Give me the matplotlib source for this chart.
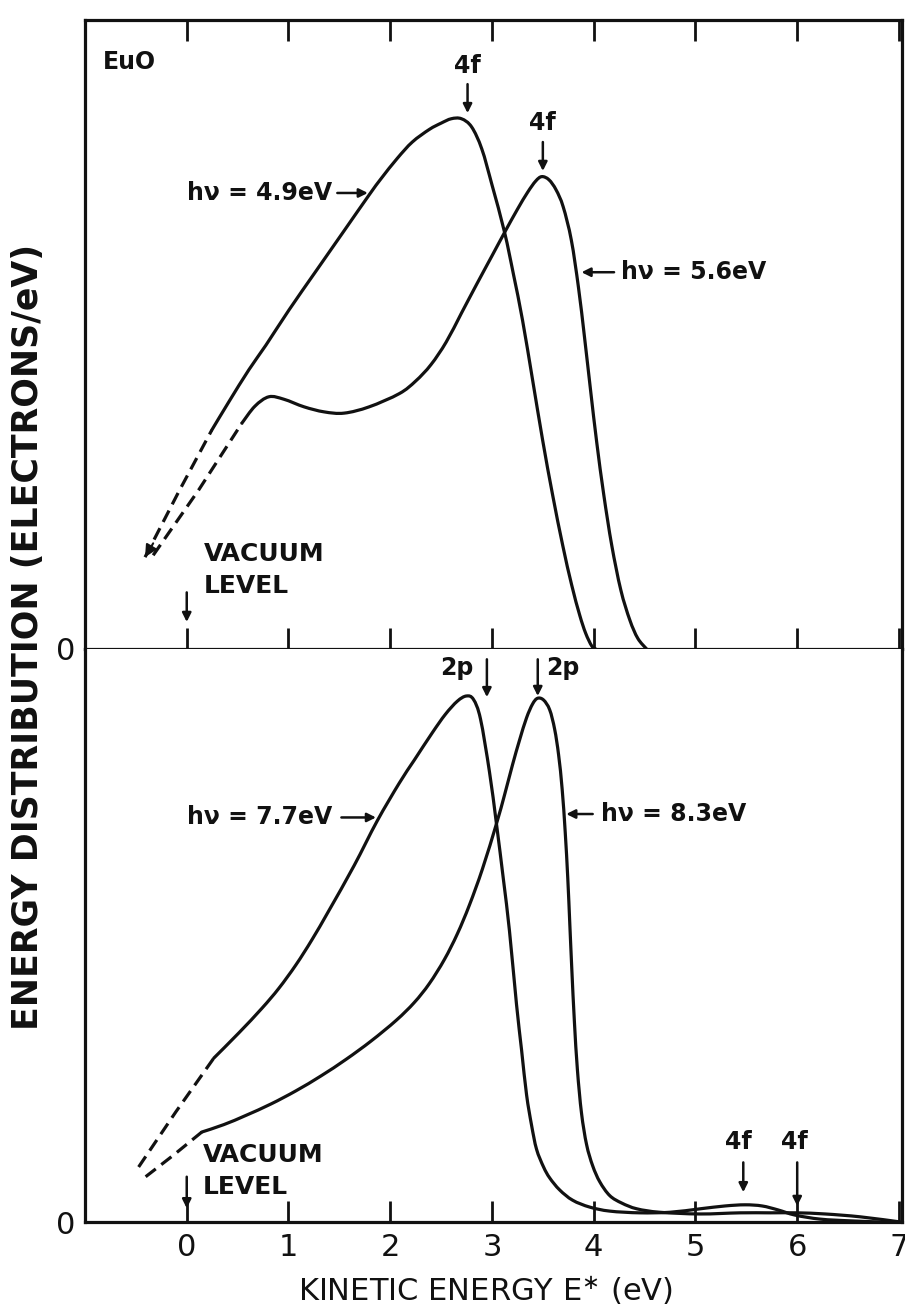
import matplotlib
matplotlib.use("Agg")
import matplotlib.pyplot as plt
from matplotlib.path import Path
from matplotlib.patches import PathPatch

plt.rcParams['font.family'] = ['DejaVu Sans']

# ---- upper panel: hv = 4.9 eV and 5.6 eV (kinetic energy in eV, distribution in arb. units)
top_49_dash_x = [-0.41, -0.079, 0.246]
top_49_dash_y = [14.6, 25.0, 34.8]
top_49_x = [0.246, 0.414, 0.611, 0.778, 1.005, 1.271, 1.547, 1.793, 1.911, 2.069,
            2.217, 2.384, 2.50, 2.60, 2.70, 2.80, 2.90, 3.00, 3.123, 3.212, 3.300,
            3.399, 3.498, 3.596, 3.695, 3.783, 3.862, 3.921, 3.980, 4.020]
top_49_y = [34.8, 39.3, 44.4, 48.3, 53.9, 60.1, 66.5, 72.2, 74.8, 78.0,
            80.6, 82.6, 83.6, 84.3, 84.3, 83.0, 79.5, 73.8, 66.3, 59.5, 52.3,
            42.8, 33.2, 24.5, 16.5, 10.2, 5.4, 2.5, 0.5, 0.0]

top_56_dash_x = [-0.33, 0.118, 0.542]
top_56_dash_y = [14.9, 25.3, 35.9]
top_56_x = [0.542, 0.670, 0.808, 0.956, 1.153, 1.350, 1.547, 1.793, 2.089, 2.25,
            2.40, 2.55, 2.70, 2.85, 3.00, 3.123, 3.25, 3.35, 3.43, 3.49,
            3.56, 3.63, 3.70, 3.78, 3.85, 3.91, 3.97, 4.030, 4.099, 4.177,
            4.266, 4.355, 4.433, 4.520]
top_56_y = [35.9, 38.6, 40.1, 39.7, 38.5, 37.7, 37.5, 38.5, 40.6, 42.6,
            45.2, 48.8, 53.4, 58.0, 62.5, 66.2, 69.9, 72.6, 74.4, 75.1,
            74.6, 73.0, 70.3, 65.0, 57.5, 49.5, 41.0, 32.8, 24.5, 16.5,
            9.4, 4.6, 1.7, 0.0]

# ---- lower panel: hv = 7.7 eV and 8.3 eV
bot_77_dash_x = [-0.473, -0.108, 0.266]
bot_77_dash_y = [9.6, 19.2, 28.6]
bot_77_x = [0.266, 0.512, 0.739, 0.906, 1.074, 1.232, 1.399, 1.645, 1.872, 2.089,
            2.236, 2.414, 2.542, 2.660, 2.749, 2.818, 2.887, 2.975, 3.044, 3.113,
            3.172, 3.241, 3.291, 3.340, 3.389, 3.438, 3.507, 3.567, 3.665, 3.793,
            3.961, 4.158, 4.453, 4.749, 5.044, 5.291, 5.488, 5.655, 5.813, 5.980,
            6.227, 6.522, 6.818]
bot_77_y = [28.6, 33.0, 37.3, 40.8, 44.9, 49.3, 54.4, 62.2, 70.0, 76.6,
            80.6, 85.4, 88.6, 90.9, 91.8, 91.2, 87.8, 78.6, 69.5, 59.7,
            50.8, 38.0, 30.0, 22.2, 16.9, 12.7, 9.6, 7.7, 5.6, 3.8,
            2.6, 1.9, 1.6, 1.7, 2.3, 2.8, 3.0, 2.8, 2.1, 1.2,
            0.5, 0.2, 0.0]

bot_83_dash_x = [-0.404, -0.128, 0.148]
bot_83_dash_y = [7.9, 11.7, 15.7]
bot_83_x = [0.148, 0.365, 0.581, 0.828, 1.074, 1.320, 1.567, 1.813, 2.059, 2.236,
            2.384, 2.532, 2.660, 2.778, 2.906, 3.044, 3.123, 3.202, 3.271, 3.340,
            3.399, 3.448, 3.507, 3.567, 3.616, 3.655, 3.690, 3.720, 3.745, 3.765,
            3.785, 3.810, 3.840, 3.880, 3.930, 3.990, 4.060, 4.158, 4.276, 4.424,
            4.650, 5.044, 5.438, 5.734, 6.000, 6.276, 6.621, 7.015]
bot_83_y = [15.7, 17.0, 18.6, 20.6, 22.9, 25.5, 28.4, 31.6, 35.2, 38.3,
            41.6, 45.8, 50.3, 55.3, 61.6, 69.5, 74.5, 79.8, 84.1, 88.0,
            90.4, 91.4, 91.1, 89.4, 86.0, 81.5, 75.5, 68.0, 60.0, 52.0,
            44.0, 35.0, 26.5, 19.0, 13.5, 9.8, 7.0, 4.6, 3.3, 2.3,
            1.7, 1.4, 1.6, 1.6, 1.6, 1.4, 0.9, 0.0]

x_ticks = [0, 1, 2, 3, 4, 5, 6, 7]
bottom_tick_labels = ['0', '1', '2', '3', '4', '5', '6', '7']
middle_tick_labels = ['0', '', '', '', '', '', '', '']

LW = 2.3
INK = '#111111'


def smooth_curve(ax, xs, ys, **kw):
    """Draw a smooth Bezier path passing through every (x, y) point."""
    pts = list(zip(xs, ys))
    n = len(pts)
    verts = [pts[0]]
    codes = [Path.MOVETO]
    for i in range(n - 1):
        p0 = pts[i - 1] if i > 0 else pts[i]
        p1 = pts[i]
        p2 = pts[i + 1]
        p3 = pts[i + 2] if i + 2 < n else pts[i + 1]
        c1 = (p1[0] + (p2[0] - p0[0]) / 6.0, p1[1] + (p2[1] - p0[1]) / 6.0)
        c2 = (p2[0] - (p3[0] - p1[0]) / 6.0, p2[1] - (p3[1] - p1[1]) / 6.0)
        verts += [c1, c2, p2]
        codes += [Path.CURVE4] * 3
    patch = PathPatch(Path(verts, codes), fill=False, edgecolor=INK, lw=LW,
                      capstyle='round', joinstyle='round', clip_on=False, **kw)
    ax.add_patch(patch)


fig = plt.figure(figsize=(9.05, 13.13), dpi=100)
L, R = 85 / 905, 902 / 905
y_top, y_mid, y_bot = 1 - 20 / 1313, 1 - 649 / 1313, 1 - 1222 / 1313
ax_top = fig.add_axes([L, y_mid, R - L, y_top - y_mid])
ax_bot = fig.add_axes([L, y_bot, R - L, y_mid - y_bot])

for ax in (ax_top, ax_bot):
    ax.set_xlim(-1.0, 7.03)
    ax.set_ylim(0, 100)
    for s in ax.spines.values():
        s.set_linewidth(LW)
        s.set_color(INK)
    ax.set_yticks([0])
    ax.set_yticklabels(['0'])
    ax.tick_params(axis='y', length=0, pad=7, labelsize=22, colors=INK)
    ax.set_xticks(x_ticks)

ax_bot.spines['top'].set_visible(False)
ax_top.set_xticklabels(middle_tick_labels)
ax_bot.set_xticklabels(bottom_tick_labels)
ax_top.tick_params(axis='x', direction='in', top=True, bottom=True, length=15,
                   width=2, labelsize=22, pad=7, colors=INK)
ax_bot.tick_params(axis='x', direction='in', top=False, bottom=True, length=15,
                   width=2, labelsize=22, pad=8, colors=INK)

dash_kw = dict(color=INK, lw=LW, linestyle=(0, (4, 2.2)), clip_on=False)

# upper panel curves
smooth_curve(ax_top, top_49_x, top_49_y)
ax_top.plot(top_49_dash_x, top_49_dash_y, **dash_kw)
smooth_curve(ax_top, top_56_x, top_56_y)
ax_top.plot(top_56_dash_x, top_56_dash_y, **dash_kw)
ax_top.annotate('', xy=(top_49_dash_x[0], top_49_dash_y[0]),
                xytext=(top_49_dash_x[0] + 0.08, top_49_dash_y[0] + 2.2),
                arrowprops=dict(arrowstyle='-|>', color=INK, lw=1.5,
                                mutation_scale=18, shrinkA=0, shrinkB=0))

# lower panel curves
smooth_curve(ax_bot, bot_77_x, bot_77_y)
ax_bot.plot(bot_77_dash_x, bot_77_dash_y, **dash_kw)
smooth_curve(ax_bot, bot_83_x, bot_83_y)
ax_bot.plot(bot_83_dash_x, bot_83_dash_y, **dash_kw)

arrow_kw = dict(arrowstyle='-|>', color=INK, lw=1.8, mutation_scale=13, shrinkA=0, shrinkB=0)
txt_kw = dict(color=INK, fontsize=17, fontweight='bold')
vac_kw = dict(color=INK, fontsize=18, fontweight='bold', linespacing=1.4,
              ha='left', va='center')


def mark(ax, x, y0, y1):
    ax.annotate('', xy=(x, y1), xytext=(x, y0), arrowprops=arrow_kw)


def hmark(ax, x0, x1, y):
    ax.annotate('', xy=(x1, y), xytext=(x0, y), arrowprops=arrow_kw)


# upper panel annotations
ax_top.text(-0.82, 93.3, 'EuO', ha='left', va='center', **txt_kw)
ax_top.text(2.76, 92.7, '4f', ha='center', va='center', **txt_kw)
mark(ax_top, 2.76, 89.8, 85.2)
ax_top.text(3.50, 83.6, '4f', ha='center', va='center', **txt_kw)
mark(ax_top, 3.50, 80.6, 76.0)
ax_top.text(1.43, 72.5, 'h\u03bd = 4.9eV', ha='right', va='center', **txt_kw)
hmark(ax_top, 1.48, 1.78, 72.5)
ax_top.text(4.27, 59.9, 'h\u03bd = 5.6eV', ha='left', va='center', **txt_kw)
hmark(ax_top, 4.20, 3.88, 59.9)
ax_top.text(0.17, 12.6, 'VACUUM\nLEVEL', **vac_kw)
mark(ax_top, 0.0, 9.0, 4.3)

# lower panel annotations
ax_bot.text(2.65, 96.6, '2p', ha='center', va='center', **txt_kw)
mark(ax_bot, 2.95, 98.2, 91.6)
ax_bot.text(3.70, 96.6, '2p', ha='center', va='center', **txt_kw)
mark(ax_bot, 3.45, 98.2, 91.8)
ax_bot.text(1.43, 70.6, 'h\u03bd = 7.7eV', ha='right', va='center', **txt_kw)
hmark(ax_bot, 1.52, 1.86, 70.6)
ax_bot.text(4.07, 71.2, 'h\u03bd = 8.3eV', ha='left', va='center', **txt_kw)
hmark(ax_bot, 3.99, 3.73, 71.2)
ax_bot.text(0.16, 8.9, 'VACUUM\nLEVEL', **vac_kw)
mark(ax_bot, 0.0, 7.9, 2.4)
ax_bot.text(5.42, 14.0, '4f', ha='center', va='center', **txt_kw)
mark(ax_bot, 5.47, 10.4, 5.2)
ax_bot.text(5.97, 14.0, '4f', ha='center', va='center', **txt_kw)
mark(ax_bot, 6.00, 10.4, 2.8)

fig.text(0.031, 1 - 637 / 1313, 'ENERGY DISTRIBUTION (ELECTRONS/eV)', rotation=90,
         ha='center', va='center', fontsize=25, fontweight='bold', color=INK)
fig.text(0.536, 1 - 1290 / 1313, r'KINETIC ENERGY E$^{\ast}$ (eV)', ha='center',
         va='center', fontsize=22, color=INK)

fig.savefig('out.png', dpi=100, facecolor='white')
